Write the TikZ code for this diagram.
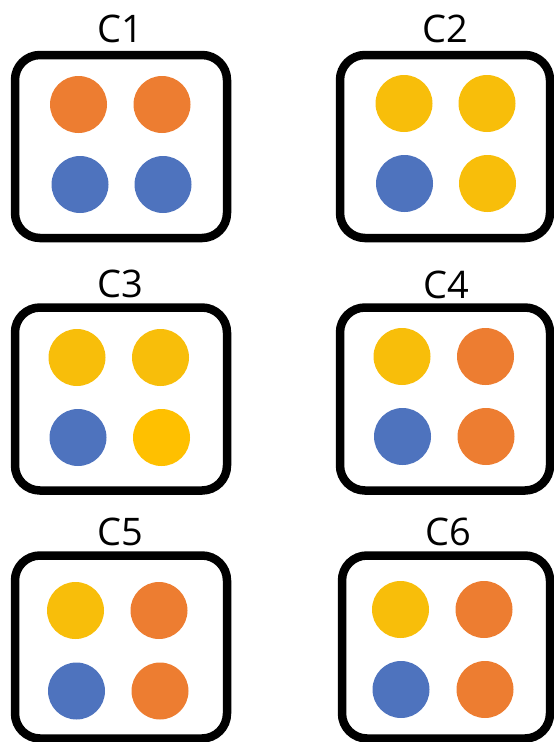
\documentclass[tikz,border=0pt]{standalone}
\usepackage{fontspec}
\setmainfont{Open Sans}
\usepackage{xcolor}
\usetikzlibrary{positioning}
\definecolor{dotorange}{HTML}{ED7D31}
\definecolor{dotblue}{HTML}{4E73BE}
\definecolor{dotyellow}{HTML}{F8BE0A}
\definecolor{dotgold}{HTML}{FFC000}

\begin{document}
\begin{tikzpicture}[x=1pt,y=-1pt,
  box/.style={draw,line width=8.5pt,rounded corners=25pt,minimum width=#1,minimum height=183pt,inner sep=0pt},
  dot/.style={circle,fill=#1,inner sep=0pt,minimum size=57pt},
  lbl/.style={anchor=base,inner sep=0pt,font=\fontsize{38}{40}\selectfont}]
\useasboundingbox (0,0) rectangle (554,742);
\node[box=212pt] (box1) at (121,146.5) {};
\node[box=210pt] (box2) at (445,146.5) {};
\node[box=212pt] (box3) at (121,399) {};
\node[box=210pt] (box4) at (445,399) {};
\node[box=212pt] (box5) at (121,647) {};
\node[box=208pt] (box6) at (446,647) {};
\node[lbl] (lab1) at (120,42) {C1};
\node[lbl] (lab2) at (445.5,42) {C2};
\node[lbl] (lab3) at (120,297) {C3};
\node[lbl] (lab4) at (446.5,298) {C4};
\node[lbl] (lab5) at (120.5,545) {C5};
\node[lbl] (lab6) at (448,545) {C6};
\node[dot=dotorange] (d1a) at (78.5,104.5) {}; \node[dot=dotorange] (d1b) at (162,104.5) {};
\node[dot=dotblue] (d1c) at (80,184.5) {}; \node[dot=dotblue] (d1d) at (163,184.5) {};
\node[dot=dotyellow] (d2a) at (404,103.5) {}; \node[dot=dotyellow] (d2b) at (487,103.5) {};
\node[dot=dotblue] (d2c) at (404.5,183.5) {}; \node[dot=dotyellow] (d2d) at (487.5,183.5) {};
\node[dot=dotyellow] (d3a) at (77,357.5) {}; \node[dot=dotyellow] (d3b) at (160.5,357.5) {};
\node[dot=dotblue] (d3c) at (78,437.5) {}; \node[dot=dotgold] (d3d) at (161.5,437.5) {};
\node[dot=dotyellow] (d4a) at (402,356.5) {}; \node[dot=dotorange] (d4b) at (485.5,356.5) {};
\node[dot=dotblue] (d4c) at (402.5,436.5) {}; \node[dot=dotorange] (d4d) at (486,436.5) {};
\node[dot=dotyellow] (d5a) at (75.5,610.5) {}; \node[dot=dotorange] (d5b) at (159,610.5) {};
\node[dot=dotblue] (d5c) at (76.5,691) {}; \node[dot=dotorange] (d5d) at (160,691) {};
\node[dot=dotyellow] (d6a) at (400.5,609.5) {}; \node[dot=dotorange] (d6b) at (484,609.5) {};
\node[dot=dotblue] (d6c) at (401,689.5) {}; \node[dot=dotorange] (d6d) at (485,689.5) {};
\end{tikzpicture}
\end{document}
